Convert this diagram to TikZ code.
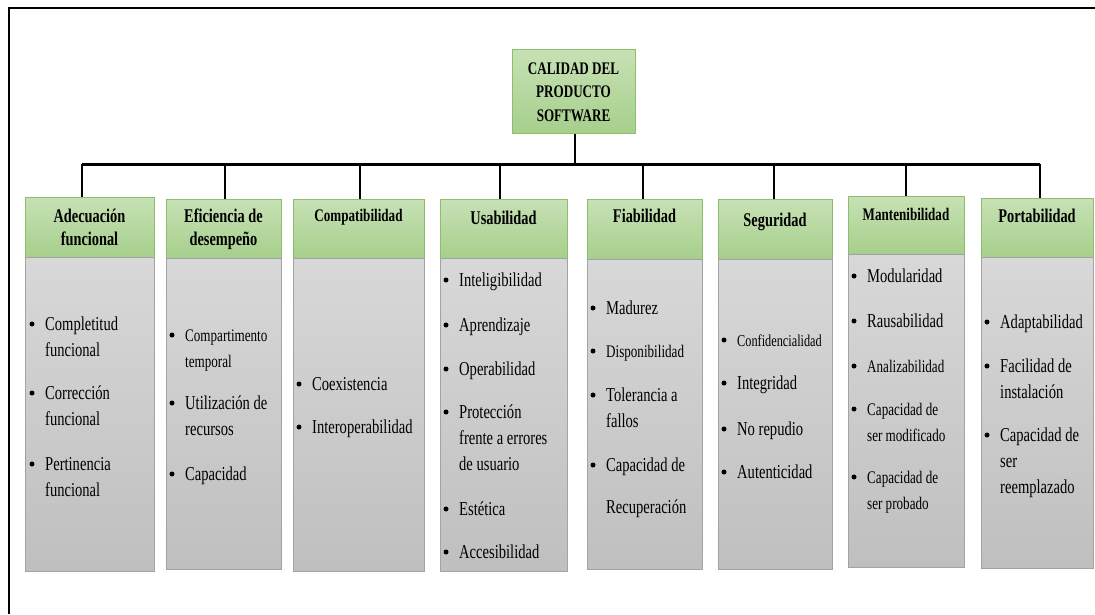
\documentclass[tikz,border=0pt]{standalone}
\usepackage{fontspec}
\setmainfont{Liberation Serif}[FakeStretch=0.74]
\usetikzlibrary{calc}
\definecolor{hdrtop}{HTML}{C7E1B5}
\definecolor{hdrbot}{HTML}{A6CF8B}
\definecolor{hdrline}{HTML}{8CBF6C}
\definecolor{bdytop}{HTML}{D8D8D8}
\definecolor{bdybot}{HTML}{BFBFBF}
\definecolor{bdyline}{HTML}{A3A3A3}
\tikzset{
  hdr/.style={draw=hdrline, line width=1pt, top color=hdrtop, bottom color=hdrbot, anchor=north west, inner sep=0pt},
  bdy/.style={draw=bdyline, line width=1pt, top color=bdytop, bottom color=bdybot, anchor=north west, inner sep=0pt},
  ttl/.style={anchor=base, inner sep=0pt, font=\bfseries\fontsize{19.4}{23}\selectfont},
  bul/.style={circle, fill=black, inner sep=0pt, minimum size=5pt},
  itx/.style={anchor=base west, inner sep=0pt},
  conn/.style={line width=1.5pt, black},
  bus/.style={line width=3pt, black},
  frame/.style={line width=2pt, black}
}
\newcommand\itm[6]{%
  \node[bul] (#1b) at (#2+3,#4-6) {};
  \node[itx,font=\fontsize{#5}{26}\selectfont] (#1) at (#3,#4) {\begin{tabular}[t]{@{}l@{}}#6\end{tabular}};}
\begin{document}
\begin{tikzpicture}[x=1pt,y=-1pt]
\useasboundingbox (0,0) rectangle (1095,614);
\fill[white] (0,0) rectangle (1095,614);
% frame
\draw[frame] (9,614) -- (9,8) -- (1095,8);
% root
\node[hdr, minimum width=123, minimum height=84] (root) at (512,49) {};
\node[anchor=base, inner sep=0pt, font=\bfseries\fontsize{17.7}{23.5}\selectfont] (roottxt) at (573.5,74)
  {\begin{tabular}[t]{@{}c@{}}CALIDAD DEL\\PRODUCTO\\SOFTWARE\end{tabular}};
% boxes
\node[hdr, minimum width=129, minimum height=60] (h1) at (25,197) {};
\node[bdy, minimum width=129, minimum height=314] (b1) at (25,257) {};
\node[hdr, minimum width=115, minimum height=59] (h2) at (166,199) {};
\node[bdy, minimum width=115, minimum height=311] (b2) at (166,258) {};
\node[hdr, minimum width=131, minimum height=59] (h3) at (293,199) {};
\node[bdy, minimum width=131, minimum height=313] (b3) at (293,258) {};
\node[hdr, minimum width=127, minimum height=59] (h4) at (440,199) {};
\node[bdy, minimum width=127, minimum height=313] (b4) at (440,258) {};
\node[hdr, minimum width=115, minimum height=60] (h5) at (587,199) {};
\node[bdy, minimum width=115, minimum height=310] (b5) at (587,259) {};
\node[hdr, minimum width=114, minimum height=60] (h6) at (718,199) {};
\node[bdy, minimum width=114, minimum height=310] (b6) at (718,259) {};
\node[hdr, minimum width=116, minimum height=58] (h7) at (848,196) {};
\node[bdy, minimum width=116, minimum height=313] (b7) at (848,254) {};
\node[hdr, minimum width=112, minimum height=59] (h8) at (981,198) {};
\node[bdy, minimum width=112, minimum height=311] (b8) at (981,257) {};
% bus and connectors
\coordinate (top) at (575,164);
\coordinate (d1) at (82,164);
\coordinate (d2) at (225,164);
\coordinate (d3) at (360,164);
\coordinate (d4) at (500,164);
\coordinate (d5) at (643,164);
\coordinate (d6) at (774,164);
\coordinate (d7) at (906,164);
\coordinate (d8) at (1040,164);
\draw[conn] (root.south -| top) -- (top);
\draw[bus] (d1) -- (d8);
\foreach \i in {1,...,8} \draw[conn] (d\i) -- (d\i |- h\i.north);
% titles
\node[ttl] (t1) at (89.5,222) {\begin{tabular}[t]{@{}c@{}}Adecuación\\funcional\end{tabular}};
\node[ttl] (t2) at (223.5,222) {\begin{tabular}[t]{@{}c@{}}Eficiencia de\\desempeño\end{tabular}};
\node[ttl, font=\bfseries\fontsize{17.7}{23}\selectfont] (t3) at (358.5,221) {Compatibilidad};
\node[ttl] (t4) at (503.5,224) {Usabilidad};
\node[ttl] (t5) at (644.5,222) {Fiabilidad};
\node[ttl] (t6) at (775,226) {Seguridad};
\node[ttl, font=\bfseries\fontsize{17.7}{23}\selectfont] (t7) at (906,220) {Mantenibilidad};
\node[ttl] (t8) at (1037,222) {Portabilidad};
% items column 1
\itm{a1}{29}{45}{330}{19.7}{Completitud\\funcional}
\itm{a2}{29}{45}{399}{19.7}{Corrección\\funcional}
\itm{a3}{29}{45}{470}{19.7}{Pertinencia\\funcional}
% column 2
\itm{e1}{169}{185}{341}{17.7}{Compartimento\\temporal}
\itm{e2}{169}{185}{409}{19.7}{Utilización de\\recursos}
\itm{e3}{169}{185}{480}{19.7}{Capacidad}
% column 3
\itm{c1}{296}{312}{390}{19.7}{Coexistencia}
\itm{c2}{296}{312}{433}{19.7}{Interoperabilidad}
% column 4
\itm{u1}{443}{459}{286}{19.7}{Inteligibilidad}
\itm{u2}{443}{459}{331}{19.7}{Aprendizaje}
\itm{u3}{443}{459}{375}{19.7}{Operabilidad}
\itm{u4}{443}{459}{418}{19.7}{Protección\\frente a errores\\de usuario}
\itm{u5}{443}{459}{515}{19.7}{Estética}
\itm{u6}{443}{459}{558}{19.7}{Accesibilidad}
% column 5
\itm{f1}{590}{606}{314}{19.7}{Madurez}
\itm{f2}{590}{606}{357}{17.7}{Disponibilidad}
\itm{f3}{590}{606}{401}{19.7}{Tolerancia a\\fallos}
\itm{f4}{590}{606}{471}{19.7}{Capacidad de\\[16pt]Recuperación}
% column 6
\itm{s1}{721}{737}{346}{16.6}{Confidencialidad}
\itm{s2}{721}{737}{389}{19.7}{Integridad}
\itm{s3}{721}{737}{435}{19.7}{No repudio}
\itm{s4}{721}{737}{478}{19.7}{Autenticidad}
% column 7
\itm{m1}{851}{867}{282}{19.7}{Modularidad}
\itm{m2}{851}{867}{327}{19.7}{Rausabilidad}
\itm{m3}{851}{867}{372}{17.7}{Analizabilidad}
\itm{m4}{851}{867}{415}{17.7}{Capacidad de\\ser modificado}
\itm{m5}{851}{867}{483}{17.7}{Capacidad de\\ser probado}
% column 8
\itm{p1}{984}{1000}{328}{19.7}{Adaptabilidad}
\itm{p2}{984}{1000}{372}{19.7}{Facilidad de\\instalación}
\itm{p3}{984}{1000}{441}{19.7}{Capacidad de\\ser\\reemplazado}
\end{tikzpicture}
\end{document}
